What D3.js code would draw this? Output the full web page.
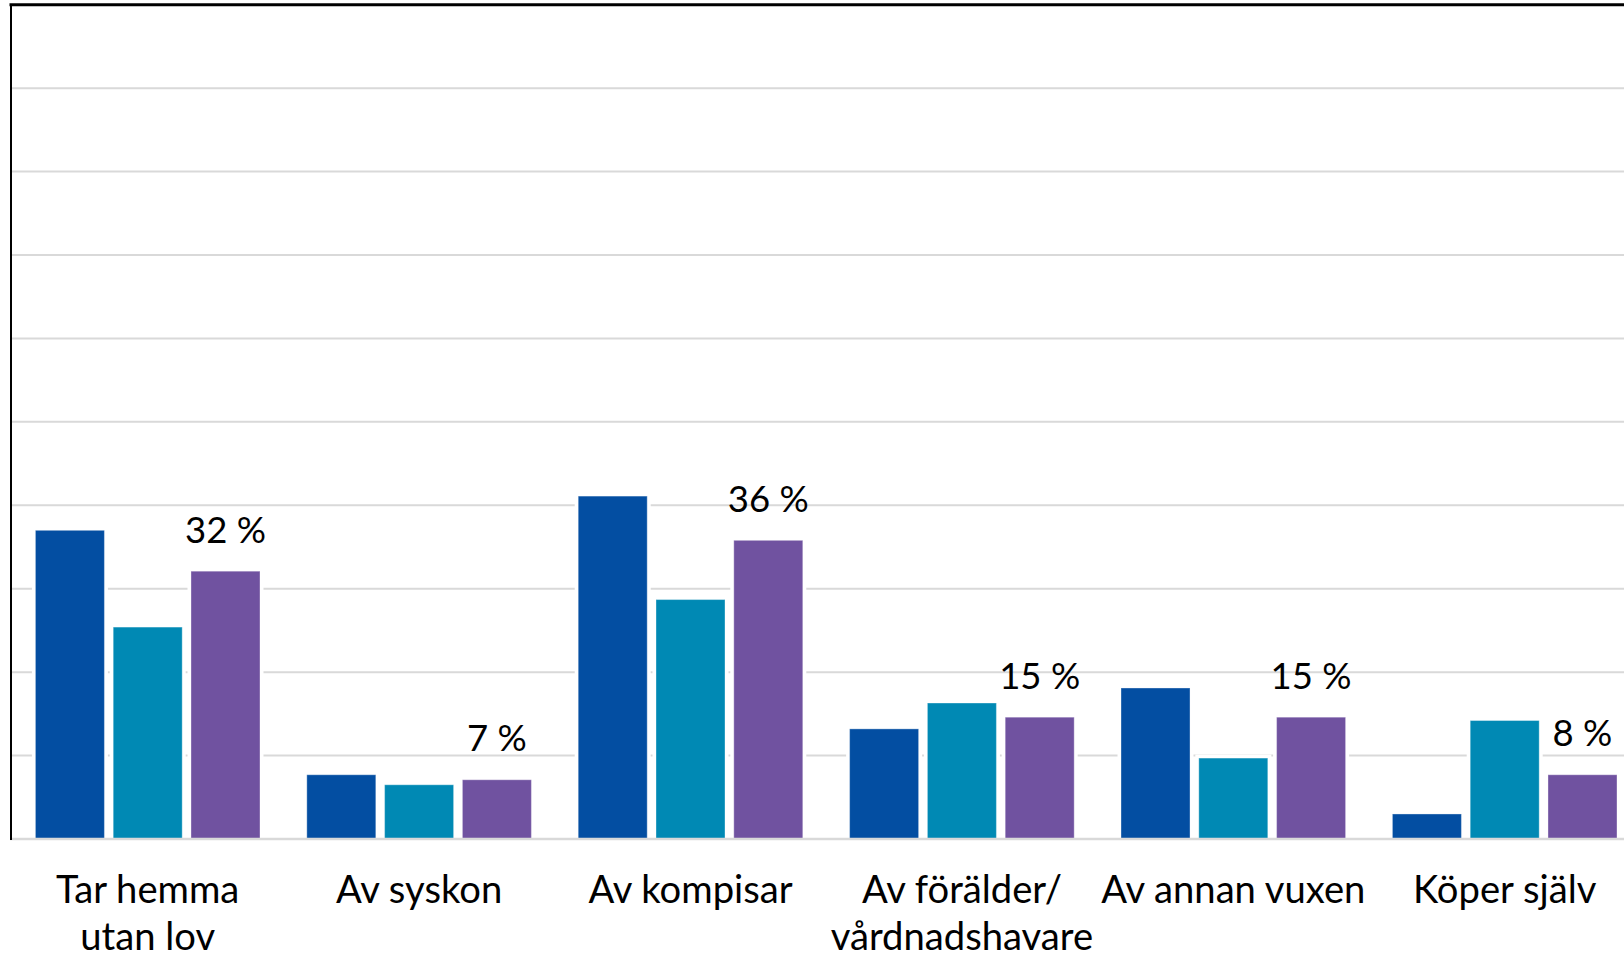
<!DOCTYPE html>
<html>
<head>
<meta charset="utf-8">
<script src="https://cdn.jsdelivr.net/npm/d3@7"></script>
<style>
  body { margin: 0; background: #fff; overflow: hidden; }
  svg { display: block; font-family: Lato, "Liberation Sans", sans-serif; }
</style>
</head>
<body>
<div id="chart"></div>
<script>
////////////////////////////////////////////////////////////////////////
// Data (percent)

let categories = ["Tar hemma\nutan lov", "Av syskon", "Av kompisar",
                  "Av förälder/\nvårdnadshavare", "Av annan vuxen", "Köper själv"];
let seriesNames = ["serie1", "serie2", "serie3"];
let serie1 = [37.0, 7.7, 41.1, 13.2, 18.1, 3.0];
let serie2 = [25.4, 6.5, 28.7, 16.3, 9.7, 14.2];
let serie3 = [32.1, 7.1, 35.8, 14.6, 14.6, 7.7];
let colors = ["#034ea2", "#0089b4", "#7052a0"];

////////////////////////////////////////////////////////////////////////
// Scales and layout

let svgWidth = 1624, svgHeight = 959;
let groupStep = 271.4;

let xScale = d3.scaleBand().domain(categories)
  .range([12, 12 + groupStep * categories.length])
  .paddingInner(0.1725).paddingOuter(0.08625);
let xInner = d3.scaleBand().domain(seriesNames)
  .range([0, xScale.bandwidth()]).paddingInner(0.113);
let yScale = d3.scaleLinear().domain([0, 100]).range([839, 4.7]);
let colorScale = d3.scaleOrdinal().domain(seriesNames).range(colors);

let rows = [];
categories.forEach(function(c, i) {
  rows.push({cat: c, key: "serie1", value: serie1[i]});
  rows.push({cat: c, key: "serie2", value: serie2[i]});
  rows.push({cat: c, key: "serie3", value: serie3[i]});
});

let svg = d3.select("#chart").append("svg")
  .attr("width", svgWidth)
  .attr("height", svgHeight);

////////////////////////////////////////////////////////////////////////
// Gridlines

svg.append("g")
  .selectAll("line")
  .data(yScale.ticks(10).filter(function(t) { return t > 0 && t < 100; }))
  .enter()
  .append("line")
  .attr("x1", 12).attr("x2", svgWidth)
  .attr("y1", function(d) { return yScale(d); })
  .attr("y2", function(d) { return yScale(d); })
  .attr("stroke", "#d9d9d9")
  .attr("stroke-width", 2);

////////////////////////////////////////////////////////////////////////
// Bars (white halo first, so the gridlines break around them)

let bars = svg.append("g")
  .selectAll("g")
  .data(rows)
  .enter()
  .append("g")
  .attr("transform", function(d) {
    return "translate(" + (xScale(d.cat) + xInner(d.key)) + ",0)";
  });

bars.append("rect")
  .attr("x", -3.5)
  .attr("y", function(d) { return yScale(d.value) - 3.5; })
  .attr("width", xInner.bandwidth() + 7)
  .attr("height", function(d) { return yScale(0) - yScale(d.value) + 3.5; })
  .attr("fill", "#fff");

bars.append("rect")
  .attr("x", 0)
  .attr("y", function(d) { return yScale(d.value); })
  .attr("width", xInner.bandwidth())
  .attr("height", function(d) { return yScale(0) - yScale(d.value); })
  .attr("fill", function(d) { return colorScale(d.key); })
  .attr("stroke", "rgba(255,255,255,0.35)")
  .attr("stroke-width", 1);

// baseline, top border and left axis
svg.append("line")
  .attr("x1", 10).attr("x2", svgWidth)
  .attr("y1", yScale(0)).attr("y2", yScale(0))
  .attr("stroke", "#d9d9d9").attr("stroke-width", 2.5);

svg.append("line")
  .attr("x1", 9.5).attr("x2", svgWidth)
  .attr("y1", yScale(100)).attr("y2", yScale(100))
  .attr("stroke", "#000").attr("stroke-width", 3);

svg.append("line")
  .attr("x1", 11).attr("x2", 11)
  .attr("y1", yScale(100)).attr("y2", yScale(0) + 1)
  .attr("stroke", "#000").attr("stroke-width", 2);

////////////////////////////////////////////////////////////////////////
// Data labels over the third series

svg.append("g")
  .selectAll("text")
  .data(rows.filter(function(d) { return d.key === "serie3"; }))
  .enter()
  .append("text")
  .attr("x", function(d) { return xScale(d.cat) + xInner(d.key) + xInner.bandwidth() / 2; })
  .attr("y", function(d) { return yScale(d.value) - 28.6; })
  .attr("text-anchor", "middle")
  .attr("font-size", 36.5)
  .attr("fill", "#000")
  .text(function(d) { return Math.round(d.value) + " %"; });

////////////////////////////////////////////////////////////////////////
// Category labels

let catLabels = svg.append("g")
  .selectAll("text")
  .data(categories)
  .enter()
  .append("text")
  .attr("x", function(d) { return xScale(d) + xScale.bandwidth() / 2; })
  .attr("y", 903)
  .attr("text-anchor", "middle")
  .attr("font-size", 38.2)
  .attr("fill", "#000");

catLabels.selectAll("tspan")
  .data(function(d) { return d.split("\n"); })
  .enter()
  .append("tspan")
  .attr("x", function() { return d3.select(this.parentNode).attr("x"); })
  .attr("dy", function(d, i) { return i === 0 ? 0 : 47; })
  .text(function(d) { return d; });
</script>
</body>
</html>
